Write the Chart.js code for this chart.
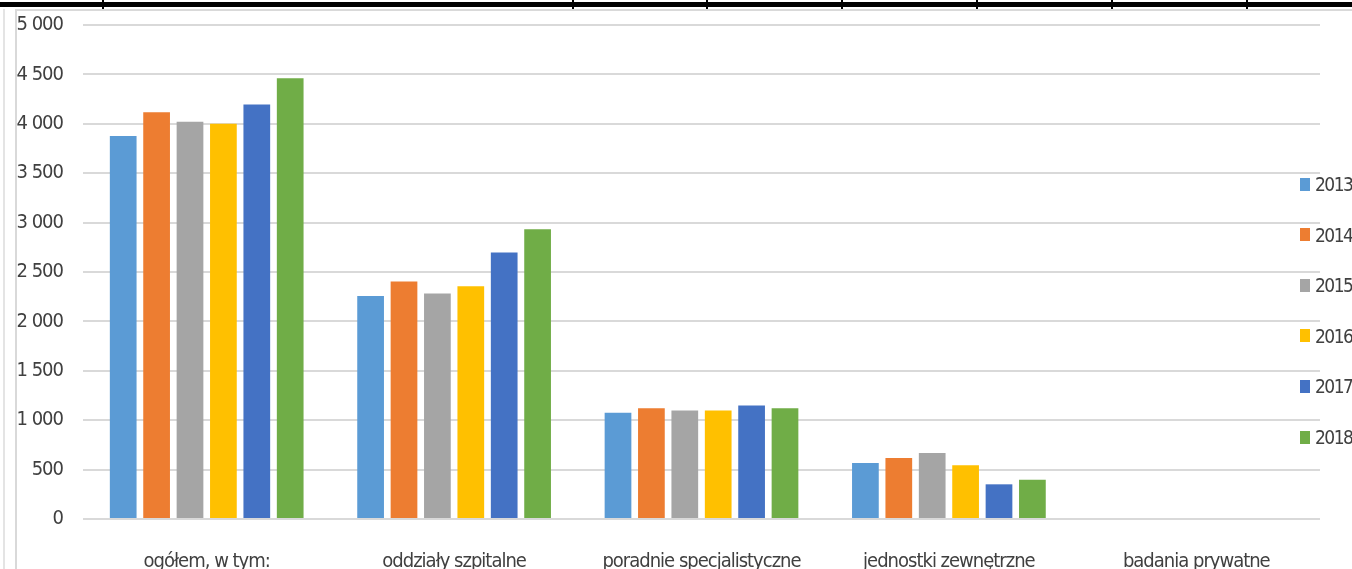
<!DOCTYPE html>
<html>
<head>
<meta charset="utf-8">
<script src="https://cdn.jsdelivr.net/npm/chart.js@4"></script>
<style>
  html, body { margin: 0; padding: 0; background: #fff; overflow: hidden; }
  #wrap { position: relative; width: 1352px; height: 569px; }
  #legend { position: absolute; left: 1300px; top: 0; font-family: "DejaVu Sans Condensed", sans-serif; font-size: 19px; letter-spacing: -1.5px; color: #404040; }
  .item { position: absolute; left: 0; height: 14px; display: flex; align-items: center; white-space: nowrap; }
  .box { width: 10px; height: 13px; margin-right: 5px; }
</style>
</head>
<body>
<div id="wrap">
  <canvas id="mycanvas" width="1352" height="569"></canvas>
  <div id="legend"></div>
</div>
<script>
var categories = ['ogółem, w tym:', 'oddziały szpitalne', 'poradnie specjalistyczne', 'jednostki zewnętrzne', 'badania prywatne'];
var years = ['2013', '2014', '2015', '2016', '2017', '2018'];
var v2013 = [3876, 2258, 1075, 566, 0];
var v2014 = [4118, 2403, 1122, 617, 0];
var v2015 = [4021, 2282, 1099, 667, 0];
var v2016 = [4001, 2356, 1099, 543, 0];
var v2017 = [4196, 2697, 1150, 351, 0];
var v2018 = [4462, 2932, 1122, 397, 0];
var colors = ['#5B9BD5', '#ED7D31', '#A5A5A5', '#FFC000', '#4472C4', '#70AD47'];
var yTicks = [0, 500, 1000, 1500, 2000, 2500, 3000, 3500, 4000, 4500, 5000];

var series = [v2013, v2014, v2015, v2016, v2017, v2018];
var font = '"DejaVu Sans Condensed", sans-serif';

// spreadsheet frame around the chart + narrower text
var frame = {
  id: 'frame',
  beforeDraw: function(chart){
    var c = chart.ctx;
    c.letterSpacing = '-1px';
    c.save();
    c.fillStyle = '#000';
    c.fillRect(0, 2, 1352, 5);
    [103, 573, 707, 842, 977, 1112, 1247].forEach(function(x){
      c.fillRect(x - 1, 0, 2, 10);
    });
    c.fillStyle = '#d9d9d9';
    c.fillRect(15, 9, 1337, 2);
    c.fillRect(15, 9, 2, 560);
    c.fillStyle = '#e4e4e4';
    c.fillRect(3, 9, 2, 560);
    c.restore();
  }
};

var datasets = [];
for (var i = 0; i < years.length; i++) {
  datasets.push({
    label: years[i],
    data: series[i],
    backgroundColor: colors[i],
    borderWidth: 0,
    categoryPercentage: 0.81,
    barPercentage: 0.8
  });
}

var ctx = document.getElementById('mycanvas');
var barGraph = new Chart(ctx, {
  type: 'bar',
  data: { labels: categories, datasets: datasets },
  plugins: [frame],
  options: {
    responsive: false,
    animation: false,
    layout: { padding: { left: 17, top: 25, right: 32, bottom: 0 } },
    plugins: { legend: { display: false }, tooltip: { enabled: false } },
    scales: {
      x: {
        grid: { display: false },
        border: { display: false },
        ticks: { color: '#404040', font: { family: font, size: 20 }, padding: 23, maxRotation: 0, autoSkip: false },
        afterFit: function(s){ s.height = 50; s.paddingLeft = 0; s.paddingRight = 0; }
      },
      y: {
        min: 0,
        max: 5000,
        afterBuildTicks: function(s){ s.ticks = yTicks.map(function(v){ return { value: v }; }); },
        grid: { color: '#d9d9d9', lineWidth: 2, drawTicks: false },
        border: { display: false },
        ticks: {
          color: '#404040',
          font: { family: font, size: 20 },
          padding: 20,
          callback: function(v){ return String(v).replace(/\B(?=(\d{3})+(?!\d))/g, ' '); }
        },
        afterFit: function(s){ s.width = 66; s.paddingTop = 0; s.paddingBottom = 0; }
      }
    }
  }
});

var leg = document.getElementById('legend');
barGraph.data.datasets.forEach(function(d, i){
  var it = document.createElement('div');
  it.className = 'item';
  it.style.top = (177 + i * 50.6) + 'px';
  it.innerHTML = '<span class="box" style="background:' + d.backgroundColor + '"></span><span>' + d.label + '</span>';
  leg.appendChild(it);
});
</script>
</body>
</html>
